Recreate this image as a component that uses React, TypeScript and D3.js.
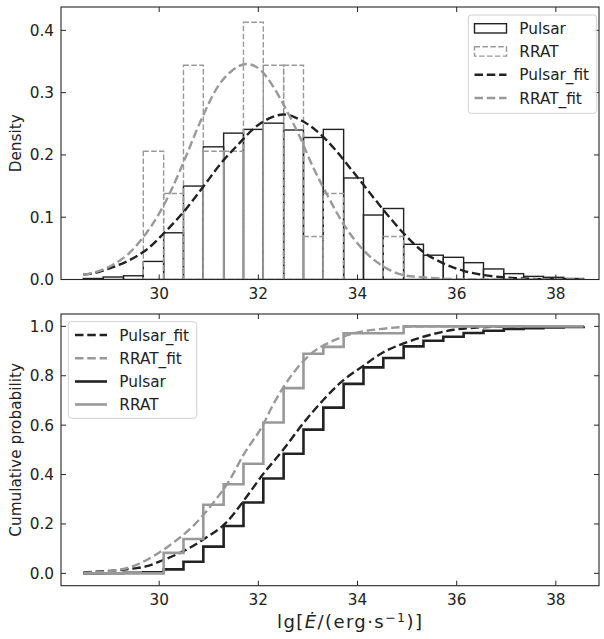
import React from "react";
import * as d3 from "d3";

// ---- data ----
const binEdges = [28.47, 28.87, 29.28, 29.68, 30.09, 30.49, 30.89, 31.30, 31.70, 32.10, 32.51, 32.91, 33.31, 33.72, 34.12, 34.52, 34.93, 35.33, 35.73, 36.14, 36.54, 36.95, 37.35, 37.75, 38.16, 38.56];
const pulsarDensity = [0.0016, 0.004, 0.006, 0.029, 0.075, 0.150, 0.213, 0.235, 0.241, 0.251, 0.240, 0.228, 0.241, 0.163, 0.1035, 0.114, 0.0565, 0.039, 0.0356, 0.027, 0.0169, 0.0094, 0.005, 0.0035, 0.0016];
const rratDensity = [0, 0, 0, 0.206, 0.138, 0.344, 0.206, 0.206, 0.413, 0.344, 0.344, 0.069, 0.138, 0, 0, 0.069, 0, 0, 0, 0, 0, 0, 0, 0, 0];

const pulsarFitX = [28.47, 28.68, 29.0, 29.4, 29.73, 30.14, 30.54, 30.88, 31.25, 31.62, 31.9, 32.23, 32.5, 32.83, 33.24, 33.5, 33.88, 34.12, 34.52, 34.93, 35.33, 35.73, 36.14, 36.55, 36.95, 37.5, 38.0, 38.56];
const pulsarFitY = [0.008, 0.010, 0.018, 0.031, 0.047, 0.078, 0.113, 0.148, 0.187, 0.219, 0.242, 0.259, 0.265, 0.257, 0.234, 0.213, 0.176, 0.152, 0.112, 0.074, 0.044, 0.026, 0.014, 0.007, 0.0035, 0.001, 0.0003, 0.0];
const rratFitX = [28.47, 28.68, 29.05, 29.39, 29.66, 30.0, 30.27, 30.5, 30.85, 31.21, 31.45, 31.76, 32.02, 32.29, 32.56, 32.83, 33.1, 33.4, 33.71, 34.12, 34.52, 34.93, 35.33, 35.8, 36.5, 38.56];
const rratFitY = [0.008, 0.011, 0.023, 0.042, 0.066, 0.106, 0.148, 0.19, 0.257, 0.313, 0.334, 0.346, 0.338, 0.311, 0.273, 0.230, 0.181, 0.134, 0.090, 0.047, 0.021, 0.007, 0.0035, 0.001, 0.0, 0.0];

// cumulative value reached at the right edge of each bin
const pulsarCdf = [0.0006, 0.0022, 0.0046, 0.016, 0.047, 0.108, 0.192, 0.287, 0.384, 0.484, 0.582, 0.671, 0.767, 0.834, 0.872, 0.919, 0.942, 0.958, 0.973, 0.982, 0.989, 0.993, 0.996, 0.998, 1.0];
const rratCdf = [0, 0, 0, 0.083, 0.139, 0.278, 0.361, 0.444, 0.611, 0.75, 0.889, 0.917, 0.972, 0.972, 0.972, 1, 1, 1, 1, 1, 1, 1, 1, 1, 1];

const pulsarCdfFitX = [28.47, 29.0, 29.5, 29.73, 30.07, 30.54, 30.95, 31.35, 31.69, 32.09, 32.5, 32.9, 33.3, 33.71, 34.12, 34.52, 34.93, 35.4, 35.94, 36.48, 37.0, 38.56];
const pulsarCdfFitY = [0.004, 0.01, 0.02, 0.028, 0.053, 0.095, 0.145, 0.205, 0.29, 0.40, 0.50, 0.606, 0.70, 0.781, 0.841, 0.895, 0.931, 0.962, 0.986, 0.996, 0.999, 1.0];
const rratCdfFitX = [28.47, 29.05, 29.46, 29.87, 30.27, 30.67, 31.08, 31.42, 31.7, 32.09, 32.29, 32.7, 33.1, 33.51, 33.91, 34.45, 34.99, 35.5, 38.56];
const rratCdfFitY = [0.002, 0.01, 0.028, 0.068, 0.122, 0.189, 0.283, 0.377, 0.48, 0.60, 0.68, 0.81, 0.895, 0.942, 0.971, 0.989, 0.998, 1.0, 1.0];

const xTicks = [30, 32, 34, 36, 38];
const densityTicks = [0.0, 0.1, 0.2, 0.3, 0.4];
const cdfTicks = [0.0, 0.2, 0.4, 0.6, 0.8, 1.0];

// ---- layout ----
const W = 604, H = 639;
const L = 61, R = 599;
const T1 = 7, B1 = 279.5;
const T2 = 314, B2 = 585.7;
const FONT = "DejaVu Sans, sans-serif";
const DARK = "#222222";
const GRAY = "#999999";
const SPINE = "#262626";
const FS = 15.3;

const xs = d3.scaleLinear().domain([28.02, 38.87]).range([L, R]);
const y1 = d3.scaleLinear().domain([0, 0.4375]).range([B1, T1]);
const y2 = d3.scaleLinear().domain([-0.05, 1.05]).range([B2, T2]);

function fitPath(xa: number[], ya: number[], ys: d3.ScaleLinear<number, number>) {
  const pts = xa.map((x, i) => [x, ya[i]] as [number, number]);
  return d3.line<[number, number]>().x(d => xs(d[0])).y(d => ys(d[1])).curve(d3.curveMonotoneX)(pts) || "";
}

function stepPath(c: number[]) {
  const pts: [number, number][] = [[binEdges[0], 0]];
  c.forEach((v, i) => pts.push([binEdges[i + 1], v]));
  return d3.line<[number, number]>().x(d => xs(d[0])).y(d => y2(d[1])).curve(d3.curveStepAfter)(pts) || "";
}

function Frame({ top, bottom, ys, yTicks }: { top: number; bottom: number; ys: d3.ScaleLinear<number, number>; yTicks: number[] }) {
  const tl = 5;
  return (
    <g>
      <rect x={L} y={top} width={R - L} height={bottom - top} fill="none" stroke={SPINE} strokeWidth={1.1} />
      {xTicks.map(t => (
        <g key={"x" + t}>
          <line x1={xs(t)} x2={xs(t)} y1={bottom} y2={bottom - tl} stroke={SPINE} strokeWidth={1} />
          <line x1={xs(t)} x2={xs(t)} y1={top} y2={top + tl} stroke={SPINE} strokeWidth={1} />
          <text x={xs(t)} y={bottom + 19} textAnchor="middle" fontSize={FS} fontFamily={FONT} fill={DARK}>{t}</text>
        </g>
      ))}
      {yTicks.map(t => (
        <g key={"y" + t}>
          <line x1={L} x2={L + tl} y1={ys(t)} y2={ys(t)} stroke={SPINE} strokeWidth={1} />
          <line x1={R} x2={R - tl} y1={ys(t)} y2={ys(t)} stroke={SPINE} strokeWidth={1} />
          <text x={L - 7} y={ys(t) + 5.5} textAnchor="end" fontSize={FS} fontFamily={FONT} fill={DARK}>{t.toFixed(1)}</text>
        </g>
      ))}
    </g>
  );
}

type Entry = { label: string; kind: "rect" | "rectDash" | "dash" | "solid"; color: string };

function Legend({ x0, y0, w, h, entries, handleX, textX, rowY }: { x0: number; y0: number; w: number; h: number; entries: Entry[]; handleX: number; textX: number; rowY: number[] }) {
  const hw = 32;
  return (
    <g>
      <rect x={x0} y={y0} width={w} height={h} rx={3} ry={3} fill="white" fillOpacity={0.8} stroke="#d0d0d0" strokeWidth={1} />
      {entries.map((e, i) => {
        const cy = rowY[i];
        let handle: React.ReactNode = null;
        if (e.kind === "rect") handle = <rect x={handleX} y={cy - 4.6} width={hw} height={9.3} fill="none" stroke={e.color} strokeWidth={1.4} />;
        else if (e.kind === "rectDash") handle = <rect x={handleX} y={cy - 4.6} width={hw} height={9.3} fill="none" stroke={e.color} strokeWidth={1.4} strokeDasharray="5.5,2.4" />;
        else if (e.kind === "dash") handle = <line x1={handleX} x2={handleX + hw} y1={cy} y2={cy} stroke={e.color} strokeWidth={2.4} strokeDasharray="8.5,3.8" />;
        else handle = <line x1={handleX} x2={handleX + hw} y1={cy} y2={cy} stroke={e.color} strokeWidth={2.6} />;
        return (
          <g key={e.label}>
            {handle}
            <text x={textX} y={cy + 5.5} fontSize={FS} fontFamily={FONT} fill={DARK}>{e.label}</text>
          </g>
        );
      })}
    </g>
  );
}

export default function App() {
  const nb = binEdges.length - 1;
  const bins = d3.range(nb);
  return (
    <svg width={W} height={H} style={{ position: "absolute", left: 0, top: 0, background: "white" }} xmlns="http://www.w3.org/2000/svg">
      <defs>
        <clipPath id="c1"><rect x={L} y={T1} width={R - L} height={B1 - T1} /></clipPath>
        <clipPath id="c2"><rect x={L} y={T2} width={R - L} height={B2 - T2} /></clipPath>
      </defs>
      <rect x={0} y={0} width={W} height={H} fill="white" />

      {/* ---------- top: density ---------- */}
      <g clipPath="url(#c1)">
        {bins.map(i => (
          <rect key={"p" + i} x={xs(binEdges[i])} y={y1(pulsarDensity[i])} width={xs(binEdges[i + 1]) - xs(binEdges[i])} height={y1(0) - y1(pulsarDensity[i])} fill="none" stroke={DARK} strokeWidth={1.4} />
        ))}
        {bins.map(i => (
          <rect key={"r" + i} x={xs(binEdges[i])} y={y1(rratDensity[i])} width={xs(binEdges[i + 1]) - xs(binEdges[i])} height={y1(0) - y1(rratDensity[i])} fill="none" stroke={GRAY} strokeWidth={1.4} strokeDasharray="5.5,2.4" />
        ))}
        <path d={fitPath(pulsarFitX, pulsarFitY, y1)} fill="none" stroke={DARK} strokeWidth={2.4} strokeDasharray="8.5,3.8" />
        <path d={fitPath(rratFitX, rratFitY, y1)} fill="none" stroke={GRAY} strokeWidth={2.4} strokeDasharray="8.5,3.8" />
      </g>
      <Frame top={T1} bottom={B1} ys={y1} yTicks={densityTicks} />
      <Legend x0={468.3} y0={15} w={128.4} h={98.3} handleX={474.5} textX={519.3} rowY={[28.3, 51.4, 74.8, 98]}
        entries={[
          { label: "Pulsar", kind: "rect", color: DARK },
          { label: "RRAT", kind: "rectDash", color: GRAY },
          { label: "Pulsar_fit", kind: "dash", color: DARK },
          { label: "RRAT_fit", kind: "dash", color: GRAY },
        ]} />
      <text transform={`translate(16,${(T1 + B1) / 2}) rotate(-90)`} textAnchor="middle" dominantBaseline="central" fontSize={FS} fontFamily={FONT} fill={DARK}>Density</text>

      {/* ---------- bottom: cumulative ---------- */}
      <g clipPath="url(#c2)">
        <path d={fitPath(pulsarCdfFitX, pulsarCdfFitY, y2)} fill="none" stroke={DARK} strokeWidth={2.4} strokeDasharray="8.5,3.8" />
        <path d={fitPath(rratCdfFitX, rratCdfFitY, y2)} fill="none" stroke={GRAY} strokeWidth={2.4} strokeDasharray="8.5,3.8" />
        <path d={stepPath(pulsarCdf)} fill="none" stroke={DARK} strokeWidth={2.6} strokeLinejoin="miter" />
        <path d={stepPath(rratCdf)} fill="none" stroke={GRAY} strokeWidth={2.6} strokeLinejoin="miter" />
      </g>
      <Frame top={T2} bottom={B2} ys={y2} yTicks={cdfTicks} />
      <Legend x0={68.3} y0={321.7} w={128.4} h={96.6} handleX={75} textX={119.3} rowY={[335, 358.3, 381.5, 404.5]}
        entries={[
          { label: "Pulsar_fit", kind: "dash", color: DARK },
          { label: "RRAT_fit", kind: "dash", color: GRAY },
          { label: "Pulsar", kind: "solid", color: DARK },
          { label: "RRAT", kind: "solid", color: GRAY },
        ]} />
      <text transform={`translate(16,${(T2 + B2) / 2}) rotate(-90)`} textAnchor="middle" dominantBaseline="central" fontSize={FS} fontFamily={FONT} fill={DARK}>Cumulative probability</text>

      <text x={277} y={628} fontSize={18} fontFamily={FONT} fill={DARK} textLength={145} lengthAdjust="spacing">
        lg[<tspan fontStyle="italic">Ė</tspan>/(erg·s<tspan dy={-6.5} fontSize={12.6}>−1</tspan><tspan dy={6.5}>)]</tspan>
      </text>
    </svg>
  );
}
